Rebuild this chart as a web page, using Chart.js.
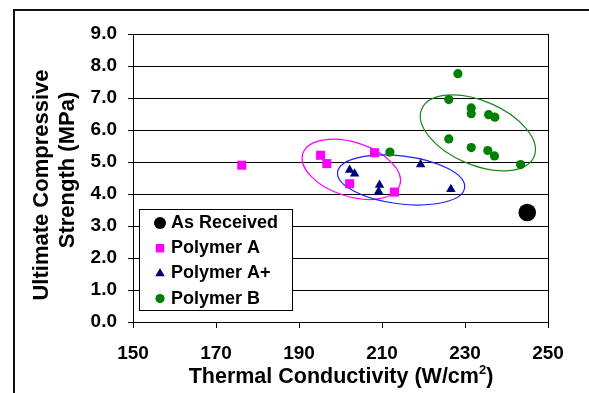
<!DOCTYPE html>
<html>
<head>
<meta charset="utf-8">
<script src="https://cdn.jsdelivr.net/npm/chart.js@4.4.1/dist/chart.umd.min.js"></script>
<style>
  html, body { margin: 0; padding: 0; background: #fff; }
</style>
</head>
<body>
<canvas id="chartCanvas" width="589" height="393"></canvas>
<script>
// data
const seriesNames = ['As Received', 'Polymer A', 'Polymer A+', 'Polymer B'];

const asReceivedX = [245.0];
const asReceivedY = [3.42];

const polymerAX = [176.2, 195.2, 196.7, 202.2, 208.2, 213.0];
const polymerAY = [4.90, 5.21, 4.95, 4.32, 5.29, 4.06];

const polymerAPlusX = [202.2, 203.4, 209.4, 209.2, 219.3, 226.6];
const polymerAPlusY = [4.75, 4.63, 4.28, 4.08, 4.92, 4.15];

const polymerBX = [211.9, 226.1, 228.3, 231.5, 231.5, 235.7, 237.2, 226.1, 231.5, 235.5, 237.1, 243.4];
const polymerBY = [5.31, 6.95, 7.76, 6.69, 6.51, 6.48, 6.40, 5.72, 5.45, 5.36, 5.19, 4.92];

const xTicks = [150, 170, 190, 210, 230, 250];
const yTicks = [0, 1, 2, 3, 4, 5, 6, 7, 8, 9];

// hand drawn ellipses around the groups (centre in data units)
const groupRings = [
    { cx: 202.6, cy: 4.77, rx: 51, ry: 27, angle: 18, color: '#ff00ff' },
    { cx: 214.6, cy: 4.44, rx: 64, ry: 24, angle: 7, color: '#1f1fff' },
    { cx: 233.1, cy: 5.91, rx: 61, ry: 32, angle: 23, color: '#1b8a1b' }
];

function toPoints(xs, ys) {
    return xs.map((x, i) => ({ x: x, y: ys[i] }));
}

const FONT = "'Liberation Sans', Arial, sans-serif";

const datasets = [
    { label: seriesNames[0], data: toPoints(asReceivedX, asReceivedY), pointStyle: 'circle', pointRadius: 8.8, backgroundColor: '#000000', legendRadius: 6 },
    { label: seriesNames[1], data: toPoints(polymerAX, polymerAY), pointStyle: 'rect', pointRadius: 6.4, backgroundColor: '#ff00ff', legendRadius: 6 },
    { label: seriesNames[2], data: toPoints(polymerAPlusX, polymerAPlusY), pointStyle: 'triangle', pointRadius: 5.5, backgroundColor: '#000080', legendRadius: 5.5 },
    { label: seriesNames[3], data: toPoints(polymerBX, polymerBY), pointStyle: 'circle', pointRadius: 4.6, backgroundColor: '#008000', legendRadius: 4.6 }
];
datasets.forEach(d => { d.borderWidth = 0; d.pointBorderWidth = 0; d.pointHoverRadius = d.pointRadius; });

// outer frame of the picture
const framePlugin = {
    id: 'frame',
    beforeDraw(chart) {
        const ctx = chart.ctx;
        ctx.save();
        ctx.fillStyle = '#fff';
        ctx.fillRect(0, 0, chart.width, chart.height);
        ctx.strokeStyle = '#111';
        ctx.lineWidth = 2;
        ctx.strokeRect(14, 10, 700, 700);
        ctx.restore();
    }
};

const ringPlugin = {
    id: 'rings',
    beforeDatasetsDraw(chart) {
        const ctx = chart.ctx;
        const xs = chart.scales.x, ys = chart.scales.y;
        ctx.save();
        ctx.lineWidth = 1.2;
        groupRings.forEach(r => {
            ctx.beginPath();
            ctx.strokeStyle = r.color;
            ctx.ellipse(xs.getPixelForValue(r.cx), ys.getPixelForValue(r.cy), r.rx, r.ry, r.angle * Math.PI / 180, 0, Math.PI * 2);
            ctx.stroke();
        });
        ctx.restore();
    }
};

const legendBoxPlugin = {
    id: 'legendBox',
    afterDraw(chart) {
        const ctx = chart.ctx;
        ctx.save();
        ctx.fillStyle = '#fff';
        ctx.fillRect(139.5, 209.5, 153, 101);
        ctx.strokeStyle = '#000';
        ctx.lineWidth = 1;
        ctx.strokeRect(139.5, 209.5, 153, 101);
        chart.data.datasets.forEach((d, i) => {
            const y = 223 + i * 25.2;
            ctx.fillStyle = d.backgroundColor;
            Chart.helpers.drawPoint(ctx, { pointStyle: d.pointStyle, radius: d.legendRadius, rotation: 0, borderWidth: 0 }, 160, y);
            ctx.fillStyle = '#000';
            ctx.font = 'bold 18px ' + FONT;
            ctx.textAlign = 'left';
            ctx.textBaseline = 'middle';
            ctx.fillText(d.label, 171, y);
        });
        ctx.restore();
    }
};

const titlePlugin = {
    id: 'titles',
    afterDraw(chart) {
        const ctx = chart.ctx;
        ctx.save();
        ctx.fillStyle = '#000';
        // y axis title, two lines
        ctx.font = 'bold 22px ' + FONT;
        ctx.textAlign = 'center';
        ctx.textBaseline = 'alphabetic';
        [['Ultimate Compressive', 47.5, 185], ['Strength (MPa)', 74, 170]].forEach(t => {
            ctx.save();
            ctx.translate(t[1], t[2]);
            ctx.rotate(-Math.PI / 2);
            ctx.fillText(t[0], 0, 0);
            ctx.restore();
        });
        // x axis title with superscript
        const main = 'Thermal Conductivity (W/cm';
        const sup = '2';
        const tail = ')';
        ctx.textAlign = 'left';
        ctx.font = 'bold 21.5px ' + FONT;
        const wMain = ctx.measureText(main).width;
        const wTail = ctx.measureText(tail).width;
        ctx.font = 'bold 13px ' + FONT;
        const wSup = ctx.measureText(sup).width;
        let x = 341 - (wMain + wSup + wTail) / 2;
        const base = 382.7;
        ctx.font = 'bold 21.5px ' + FONT;
        ctx.fillText(main, x, base);
        x += wMain;
        ctx.font = 'bold 13px ' + FONT;
        ctx.fillText(sup, x, base - 9);
        x += wSup;
        ctx.font = 'bold 21.5px ' + FONT;
        ctx.fillText(tail, x, base);
        ctx.restore();
    }
};

const canvas = document.getElementById('chartCanvas');
const ctx = canvas.getContext('2d');

new Chart(ctx, {
    type: 'scatter',
    data: { datasets: datasets },
    options: {
        responsive: false,
        animation: false,
        devicePixelRatio: 1,
        layout: { padding: { left: 0, right: 41, top: 34, bottom: 0 } },
        plugins: {
            legend: { display: false },
            tooltip: { enabled: false }
        },
        scales: {
            x: {
                type: 'linear',
                position: 'bottom',
                min: xTicks[0],
                max: xTicks[xTicks.length - 1],
                afterFit: function(scale) { scale.height = 71; },
                afterBuildTicks: function(scale) { scale.ticks = xTicks.map(v => ({ value: v })); },
                border: { display: true, color: '#000', width: 1 },
                grid: {
                    color: c => (c.tick && c.tick.value === 250) ? '#000' : 'rgba(0,0,0,0)',
                    tickColor: '#000',
                    tickLength: 6,
                    lineWidth: 1
                },
                ticks: {
                    color: '#000',
                    padding: 14,
                    maxRotation: 0,
                    font: { family: FONT, size: 19, weight: 'bold' }
                }
            },
            y: {
                type: 'linear',
                position: 'left',
                min: yTicks[0],
                max: yTicks[yTicks.length - 1],
                afterFit: function(scale) { scale.width = 133; },
                afterBuildTicks: function(scale) { scale.ticks = yTicks.map(v => ({ value: v })); },
                border: { display: true, color: '#000', width: 1 },
                grid: {
                    color: '#000',
                    tickColor: '#000',
                    tickLength: 5,
                    lineWidth: 1
                },
                ticks: {
                    color: '#000',
                    padding: 11,
                    callback: v => Number(v).toFixed(1),
                    font: { family: FONT, size: 19, weight: 'bold' }
                }
            }
        }
    },
    plugins: [framePlugin, ringPlugin, legendBoxPlugin, titlePlugin]
});
</script>
</body>
</html>
